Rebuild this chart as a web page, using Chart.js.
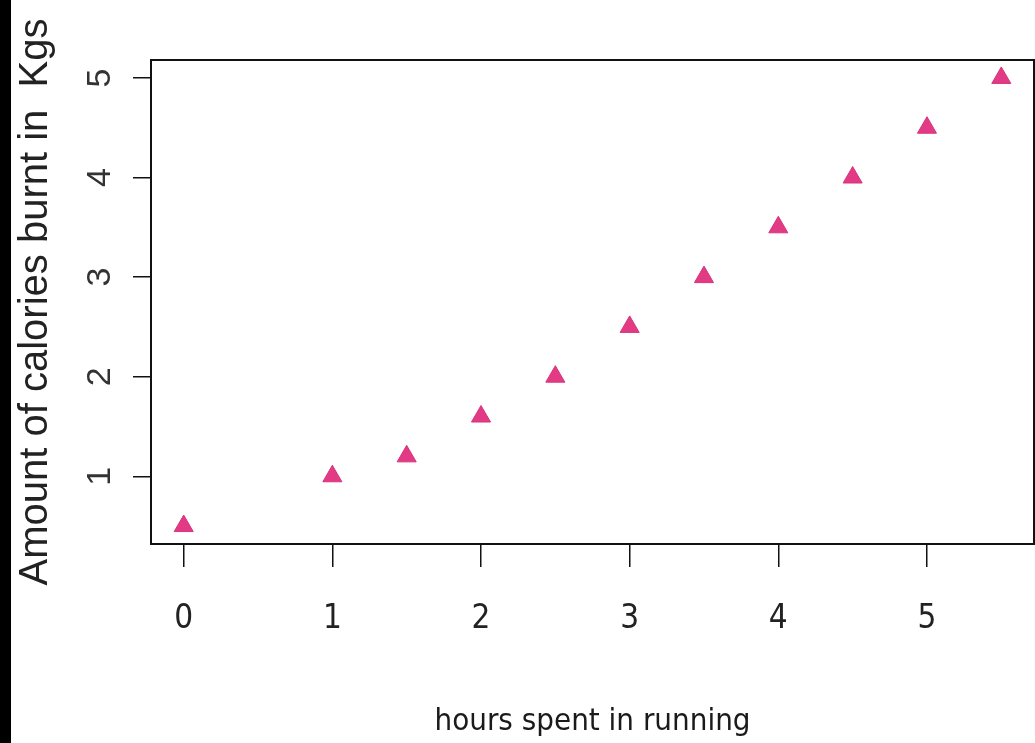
<!DOCTYPE html>
<html>
<head>
<meta charset="utf-8">
<script src="https://cdn.jsdelivr.net/npm/chart.js@4/dist/chart.umd.min.js"></script>
<style>
  html, body { margin: 0; padding: 0; background: #fff; overflow: hidden; }
  canvas { display: block; }
</style>
</head>
<body>
<canvas id="chart" width="1035" height="743"></canvas>
<script>
// hours spent running vs calories burnt
const hours = [0, 1, 1.5, 2, 2.5, 3, 3.5, 4, 4.5, 5, 5.5];
const calories = [0.5, 1.0, 1.2, 1.6, 2.0, 2.5, 3.0, 3.5, 4.0, 4.5, 5.0];
const xTicks = [0, 1, 2, 3, 4, 5];
const yTicks = [1, 2, 3, 4, 5];

const xTitle = "hours spent in running";
const yTitle = "Amount of calories burnt in  Kgs";

// R style axis range: data range stretched by 4% each side
const pad = (arr) => {
  const lo = Math.min(...arr), hi = Math.max(...arr);
  const d = (hi - lo) * 0.04;
  return [lo - d, hi + d];
};
const [xMin, xMax] = pad(hours);
const [yMin, yMax] = pad(calories);

// white page with the black strip on the left, and the box round the plot
const framePlugin = {
  id: "frame",
  beforeDraw(chart) {
    const { ctx, width, height } = chart;
    ctx.save();
    ctx.fillStyle = "#fff";
    ctx.fillRect(0, 0, width, height);
    ctx.fillStyle = "#000";
    ctx.fillRect(0, 0, 11, height);
    ctx.restore();
  },
  afterDraw(chart) {
    const { ctx, chartArea: a } = chart;
    ctx.save();
    ctx.strokeStyle = "#111";
    ctx.lineWidth = 2;
    ctx.strokeRect(a.left, a.top, a.right - a.left, a.bottom - a.top);
    ctx.restore();
  },
};

const narrow = "'DejaVu Sans Condensed', 'Liberation Sans Narrow', sans-serif";
const regular = "'Liberation Sans', Arial, sans-serif";

new Chart(document.getElementById("chart"), {
  type: "scatter",
  plugins: [framePlugin],
  data: {
    datasets: [
      {
        data: hours.map((h, i) => ({ x: h, y: calories[i] })),
        pointStyle: "triangle",
        pointRadius: 11,
        backgroundColor: "#e23a84",
        borderColor: "#d8337c",
        borderWidth: 1,
      },
    ],
  },
  options: {
    responsive: false,
    devicePixelRatio: 1,
    animation: false,
    layout: { autoPadding: false, padding: { top: 60, right: 1, left: 0, bottom: 0 } },
    plugins: {
      legend: { display: false },
      tooltip: { enabled: false },
    },
    scales: {
      x: {
        type: "linear",
        min: xMin,
        max: xMax,
        afterFit: (s) => { s.height = 199; },
        afterBuildTicks: (s) => { s.ticks = xTicks.map((v) => ({ value: v })); },
        border: { display: false },
        grid: { drawOnChartArea: false, tickLength: 23, color: "#111", lineWidth: 1.5 },
        ticks: {
          padding: 33,
          color: "#222",
          font: { family: narrow, size: 33 },
        },
        title: {
          display: true,
          text: xTitle,
          color: "#1a1a1a",
          padding: { top: 0, bottom: 2 },
          font: { family: narrow, size: 31 },
        },
      },
      y: {
        type: "linear",
        min: yMin,
        max: yMax,
        afterFit: (s) => { s.width = 151; },
        afterBuildTicks: (s) => { s.ticks = yTicks.map((v) => ({ value: v })); },
        border: { display: false },
        grid: { drawOnChartArea: false, tickLength: 18, color: "#111", lineWidth: 1.5 },
        ticks: {
          minRotation: 90,
          maxRotation: 90,
          crossAlign: "center",
          padding: 23,
          color: "#333",
          font: { family: regular, size: 34 },
        },
        title: {
          display: true,
          text: yTitle,
          color: "#222",
          padding: { top: 18, bottom: 0 },
          font: { family: regular, size: 40, lineHeight: 0.9 },
        },
      },
    },
  },
});
</script>
</body>
</html>
